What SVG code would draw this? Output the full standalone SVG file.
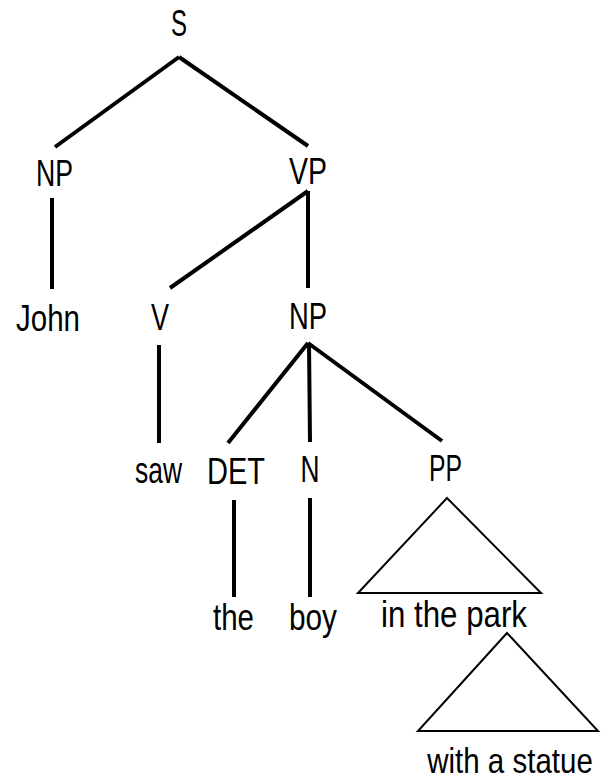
<svg xmlns="http://www.w3.org/2000/svg" width="602" height="783" viewBox="0 0 602 783">
<style>
text{font-family:"Liberation Sans","Arial",sans-serif;font-size:36px;fill:#000;text-anchor:middle}
.e{stroke:#000;stroke-width:4;fill:none;stroke-linecap:butt}
.t{stroke:#000;stroke-width:2;fill:none;stroke-linejoin:miter}
</style>
<rect width="602" height="783" fill="#fff"/>
<g id="connectors">
<line class="e" x1="179" y1="57" x2="55" y2="147"/>
<line class="e" x1="179" y1="57" x2="308" y2="146"/>
<line class="e" x1="52" y1="198" x2="52" y2="289"/>
<line class="e" x1="308" y1="191" x2="170" y2="288"/>
<line class="e" x1="308" y1="191" x2="308" y2="288"/>
<line class="e" x1="159" y1="345" x2="159" y2="443"/>
<line class="e" x1="308" y1="343" x2="228" y2="443"/>
<line class="e" x1="309" y1="343" x2="310" y2="442"/>
<line class="e" x1="308" y1="343" x2="442" y2="441"/>
<line class="e" x1="234" y1="500" x2="234" y2="597"/>
<line class="e" x1="310" y1="498" x2="310" y2="597"/>
<polygon class="t" points="447,498 358,593 541,593"/>
<polygon class="t" points="507,633 418,731 598,731"/>
</g>
<g id="n-S"><text x="179" y="36" textLength="16" lengthAdjust="spacingAndGlyphs">S</text></g>
<g id="n-NP1"><text x="54.5" y="186" textLength="37" lengthAdjust="spacingAndGlyphs">NP</text></g>
<g id="n-VP"><text x="308" y="184" textLength="38" lengthAdjust="spacingAndGlyphs">VP</text></g>
<g id="n-John"><text x="48" y="331" textLength="64" lengthAdjust="spacingAndGlyphs">John</text></g>
<g id="n-V"><text x="160" y="330" textLength="18" lengthAdjust="spacingAndGlyphs">V</text></g>
<g id="n-NP2"><text x="308" y="329" textLength="38" lengthAdjust="spacingAndGlyphs">NP</text></g>
<g id="n-saw"><text x="158.5" y="483" textLength="47" lengthAdjust="spacingAndGlyphs">saw</text></g>
<g id="n-DET"><text x="236" y="484" textLength="58" lengthAdjust="spacingAndGlyphs">DET</text></g>
<g id="n-N"><text x="310" y="482" textLength="19" lengthAdjust="spacingAndGlyphs">N</text></g>
<g id="n-PP"><text x="445.5" y="481" textLength="33" lengthAdjust="spacingAndGlyphs">PP</text></g>
<g id="n-the"><text x="233.5" y="630" textLength="41" lengthAdjust="spacingAndGlyphs">the</text></g>
<g id="n-boy"><text x="313" y="630" textLength="48" lengthAdjust="spacingAndGlyphs">boy</text></g>
<g id="n-inthepark"><text x="454" y="627" textLength="146" lengthAdjust="spacingAndGlyphs">in the park</text></g>
<g id="n-withastatue"><text transform="translate(510,773) scale(0.82,1)" x="0" y="0">with a statue</text></g>
</svg>
